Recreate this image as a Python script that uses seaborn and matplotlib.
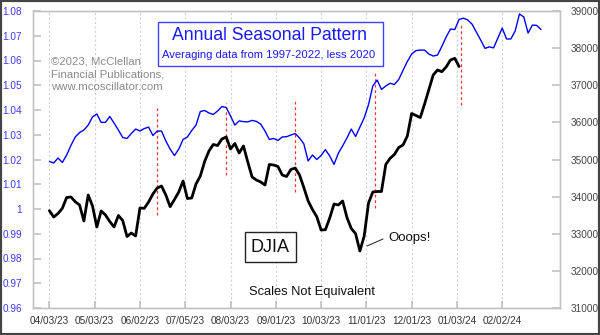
import numpy as np
import pandas as pd
import matplotlib
matplotlib.use("Agg")
import matplotlib.pyplot as plt
import seaborn as sns
from matplotlib.patches import Rectangle
from matplotlib.lines import Line2D
from matplotlib.ticker import FuncFormatter

# ---------------- data ----------------
tick_labels = ["04/03/23", "05/03/23", "06/02/23", "07/05/23", "08/03/23", "09/01/23",
               "10/03/23", "11/01/23", "12/01/23", "01/03/24", "02/02/24"]
trading_days_per_tick = 21      # labels fall every 21 trading days
sample_step = 2                 # one value every 2 trading days, starting 04/03/23

seasonal = [
    1.0192, 1.0186, 1.0206, 1.0188, 1.0218, 1.0257, 1.0291, 1.0309, 1.0319, 1.0339,
    1.0372, 1.0384, 1.0350, 1.0350, 1.0374, 1.0347, 1.0319, 1.0289, 1.0285, 1.0305,
    1.0323, 1.0315, 1.0325, 1.0331, 1.0297, 1.0315, 1.0315, 1.0275, 1.0242, 1.0216,
    1.0242, 1.0281, 1.0291, 1.0317, 1.0339, 1.0394, 1.0398, 1.0388, 1.0382, 1.0396,
    1.0414, 1.0410, 1.0376, 1.0339, 1.0356, 1.0353, 1.0352, 1.0358, 1.0354, 1.0343,
    1.0315, 1.0281, 1.0285, 1.0277, 1.0291, 1.0292, 1.0299, 1.0305, 1.0287, 1.0263,
    1.0194, 1.0218, 1.0200, 1.0216, 1.0240, 1.0214, 1.0180, 1.0225, 1.0255, 1.0287,
    1.0323, 1.0293, 1.0331, 1.0368, 1.0422, 1.0497, 1.0521, 1.0483, 1.0497, 1.0508,
    1.0503, 1.0523, 1.0560, 1.0596, 1.0626, 1.0640, 1.0642, 1.0642, 1.0626, 1.0618,
    1.0622, 1.0657, 1.0695, 1.0727, 1.0725, 1.0766, 1.0771, 1.0764, 1.0747, 1.0715,
    1.0683, 1.0649, 1.0655, 1.0651, 1.0691, 1.0731, 1.0687, 1.0687, 1.0719, 1.0788,
    1.0776, 1.0711, 1.0743, 1.0742, 1.0725,
]

djia = [
    33621, 33451, 33545, 33685, 33976, 33990, 33863, 33774, 33343, 34044,
    33747, 33182, 33613, 33505, 33330, 33182, 33492, 33357, 32926, 33020,
    32939, 33694, 33685, 33855, 34071, 34232, 34286, 34044, 33729, 33923,
    34125, 34421, 33949, 33963, 34340, 34556, 34946, 35229, 35404, 35377,
    35552, 35606, 35283, 35431, 35175, 35364, 34933, 34529, 34448, 34394,
    34313, 34865, 34852, 34811, 34582, 34542, 34731, 34771, 34582, 34246,
    33882, 33653, 33459, 33101, 33109, 33424, 33801, 33774, 33882, 33438,
    33141, 33001, 32535, 32939, 33828, 34125, 34138, 34138, 34865, 35032,
    35135, 35323, 35391, 35633, 36239, 36185, 36131, 36495, 36886, 37276,
    37411, 37365, 37492, 37680, 37726, 37505,
]

# red dashed turning-point markers (trading day, seasonal-scale extent)
event_days = [50, 82, 114, 151, 191]
event_top = [1.0408, 1.0430, 1.0444, 1.0554, 1.0752]
event_bottom = [0.9976, 1.0137, 1.0069, 1.0004, 1.0420]

left_ticks = [0.96, 0.97, 0.98, 0.99, 1.00, 1.01, 1.02, 1.03, 1.04, 1.05, 1.06, 1.07, 1.08]
right_ticks = [31000, 32000, 33000, 34000, 35000, 36000, 37000, 38000, 39000]

# ---------------- style ----------------
sns.set_theme(style="white")
plt.rcParams["font.family"] = ["Liberation Sans", "DejaVu Sans"]

W, H = 600, 335
fig = plt.figure(figsize=(W / 100, H / 100), dpi=100)
fig.patch.set_facecolor("white")

ax = fig.add_axes([33 / W, 27 / H, 527 / W, 297 / H])
ax2 = ax.twinx()

df_s = pd.DataFrame({"td": np.arange(len(seasonal)) * sample_step, "v": seasonal})
df_d = pd.DataFrame({"td": np.arange(len(djia)) * sample_step, "v": djia})

sns.lineplot(data=df_s, x="td", y="v", ax=ax, color="#0000ff", linewidth=1.0)
sns.lineplot(data=df_d, x="td", y="v", ax=ax2, color="black", linewidth=2.0)

ax.vlines(event_days, event_bottom, event_top, colors="#ff3030",
          linestyles=(0, (2.2, 2.2)), linewidth=0.9, zorder=1)

tick_pos = [i * trading_days_per_tick for i in range(len(tick_labels))]
ax.set_xlim(-7.6, 236.8)
ax.set_xticks(tick_pos)
ax.set_xticklabels(tick_labels)
ax.set_ylim(0.96, 1.08)
ax.set_yticks(left_ticks)
ax.yaxis.set_major_formatter(FuncFormatter(lambda v, p: f"{round(v, 2):g}"))
ax2.set_ylim(31000, 39000)
ax2.set_yticks(right_ticks)

for a in (ax, ax2):
    a.set_xlabel("")
    a.set_ylabel("")
    for s in a.spines.values():
        s.set_color("#c4c4c4")
        s.set_linewidth(1.0)
    a.grid(False)

ax.grid(axis="x", color="#d2d2d2", linestyle=(0, (2, 2)), linewidth=0.8)
ax.set_axisbelow(True)

ax.tick_params(axis="x", direction="in", length=5, color="#c4c4c4",
               labelsize=7.2, labelcolor="#333333", pad=6, bottom=True)
ax.tick_params(axis="y", direction="in", length=6, color="#c4c4c4",
               labelsize=7.2, labelcolor="#3a3aff", pad=8, left=True)
ax2.tick_params(axis="y", direction="in", length=6, color="#c4c4c4",
                labelsize=7.2, labelcolor="#444444", pad=8, right=True)


def fx(px):
    return px / W


def fy(py):
    return 1 - py / H


# copyright
fig.text(fx(51), fy(56), "©2023, McClellan\nFinancial Publications,\nwww.mcoscillator.com",
         fontsize=8.2, color="#8a8a8a", ha="left", va="top", linespacing=1.38)

# title box
fig.patches.append(Rectangle((fx(158), fy(66)), (383 - 158) / W, (66 - 21.7) / H,
                             transform=fig.transFigure, facecolor="white",
                             edgecolor="#4040ff", linewidth=1.0, zorder=5))
fig.text(fx(269), fy(35), "Annual Seasonal Pattern", fontsize=12.7, color="#1a1aff",
         ha="center", va="center", zorder=6)
fig.text(fx(269), fy(55), "Averaging data from 1997-2022, less 2020", fontsize=8.1,
         color="#1a1aff", ha="center", va="center", zorder=6)

# DJIA box
fig.patches.append(Rectangle((fx(245), fy(262)), (296 - 245) / W, (262 - 232) / H,
                             transform=fig.transFigure, facecolor="white",
                             edgecolor="#222222", linewidth=1.0, zorder=5))
fig.text(fx(270.5), fy(247), "DJIA", fontsize=13, color="#111111",
         ha="center", va="center", zorder=6)

fig.text(fx(311.7), fy(292), "Scales Not Equivalent", fontsize=9.3, color="#111111",
         ha="center", va="center")

fig.text(fx(388), fy(238), "Ooops!", fontsize=9.5, color="#111111",
         ha="left", va="center")
fig.lines.append(Line2D([fx(367), fx(383)], [fy(246), fy(239)], transform=fig.transFigure,
                        color="#333333", linewidth=0.8))

# outer frame
fig.patches.append(Rectangle((0, 0), 1, 1, transform=fig.transFigure, fill=False,
                             edgecolor="#444444", linewidth=3.0, zorder=10))

fig.savefig("out.png", dpi=100)
